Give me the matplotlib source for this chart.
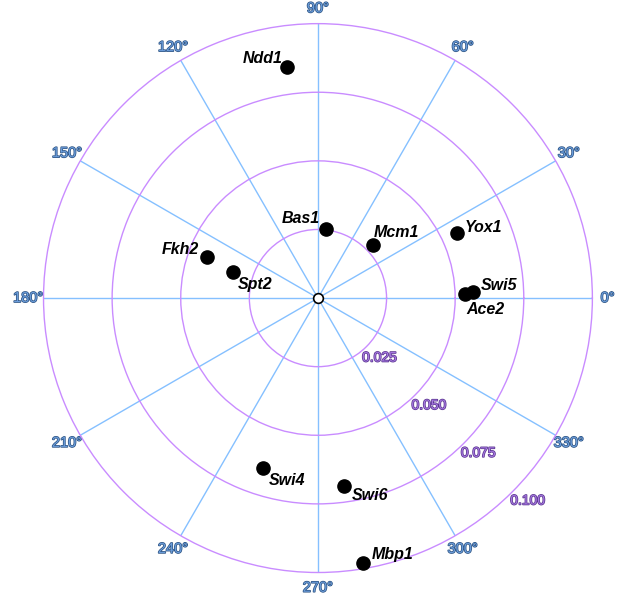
import numpy as np
import matplotlib.pyplot as plt
import matplotlib.patheffects as pe

# gene positions: phase angle (degrees) and amplitude
genes = ['Ndd1', 'Bas1', 'Mcm1', 'Yox1', 'Swi5', 'Ace2',
         'Fkh2', 'Spt2', 'Swi4', 'Swi6', 'Mbp1']
angle_deg = [97.6, 83.4, 43.9, 25.1, 2.2, 1.6,
             159.7, 163.0, 252.1, 277.9, 279.6]
amplitude = [0.0849, 0.0253, 0.0278, 0.0559, 0.0565, 0.0536,
             0.0431, 0.0324, 0.0651, 0.0691, 0.0979]

ring_values = [0.025, 0.050, 0.075, 0.100]
spoke_angles = list(range(0, 360, 30))

# label placement next to each dot (pixels, horizontal alignment)
label_pos = {
    'Ndd1': (-5, 4, 'right'), 'Bas1': (-6, 6, 'right'),
    'Mcm1': (1, 8, 'left'), 'Yox1': (8, 1, 'left'),
    'Swi5': (8, 2, 'left'), 'Ace2': (1, -20, 'left'),
    'Fkh2': (-8, 3, 'right'), 'Spt2': (5, -17, 'left'),
    'Swi4': (6, -17, 'left'), 'Swi6': (8, -14, 'left'),
    'Mbp1': (9, 4, 'left'),
}

plt.rcParams['font.family'] = ['Liberation Sans', 'DejaVu Sans']

fig = plt.figure(figsize=(6.21, 5.94), dpi=100)
ax = fig.add_axes([0.070, 0.0362, 0.884, 0.924], projection='polar')

spoke_col = '#85c0ff'
ring_col = '#c98cff'

ax.set_ylim(0, ring_values[-1])
ax.set_rgrids(ring_values[:-1], labels=['', '', ''])
ax.set_thetagrids(spoke_angles, labels=[f'{a}°' for a in spoke_angles])
ax.xaxis.grid(True, color=spoke_col, linewidth=1.0, linestyle='-')
ax.yaxis.grid(True, color=ring_col, linewidth=1.0, linestyle='-')
ax.spines['polar'].set_color(ring_col)
ax.spines['polar'].set_linewidth(1.0)
ax.tick_params(axis='x', length=0, pad=4, labelsize=10.5,
               labelcolor='#6b9ddb')
for lbl in ax.get_xticklabels():
    lbl.set_path_effects([pe.Stroke(linewidth=1.1, foreground='#2f5584'),
                          pe.Normal()])

# amplitude labels along the 316 degree direction
for v in ring_values:
    ax.text(np.deg2rad(-44), v + 0.0062, f'{v:.3f}', ha='center', va='center',
            fontsize=10, color='#a678e0', clip_on=False,
            path_effects=[pe.Stroke(linewidth=1.1, foreground='#5b3690'),
                          pe.Normal()])

theta = np.deg2rad(angle_deg)
ax.plot(theta, amplitude, 'o', color='black', markersize=9.5, zorder=5,
        clip_on=False)
ax.plot([0], [0], 'o', markerfacecolor='white', markeredgecolor='black',
        markersize=7, markeredgewidth=1.2, zorder=6)

for g, t, r in zip(genes, theta, amplitude):
    dx, dy, ha = label_pos[g]
    ax.annotate(g, (t, r), xytext=(dx, dy), textcoords='offset pixels',
                ha=ha, va='baseline', fontsize=11.5, fontweight='bold',
                fontstyle='italic', color='black', zorder=7,
                annotation_clip=False)

fig.savefig('out.png', dpi=100)
